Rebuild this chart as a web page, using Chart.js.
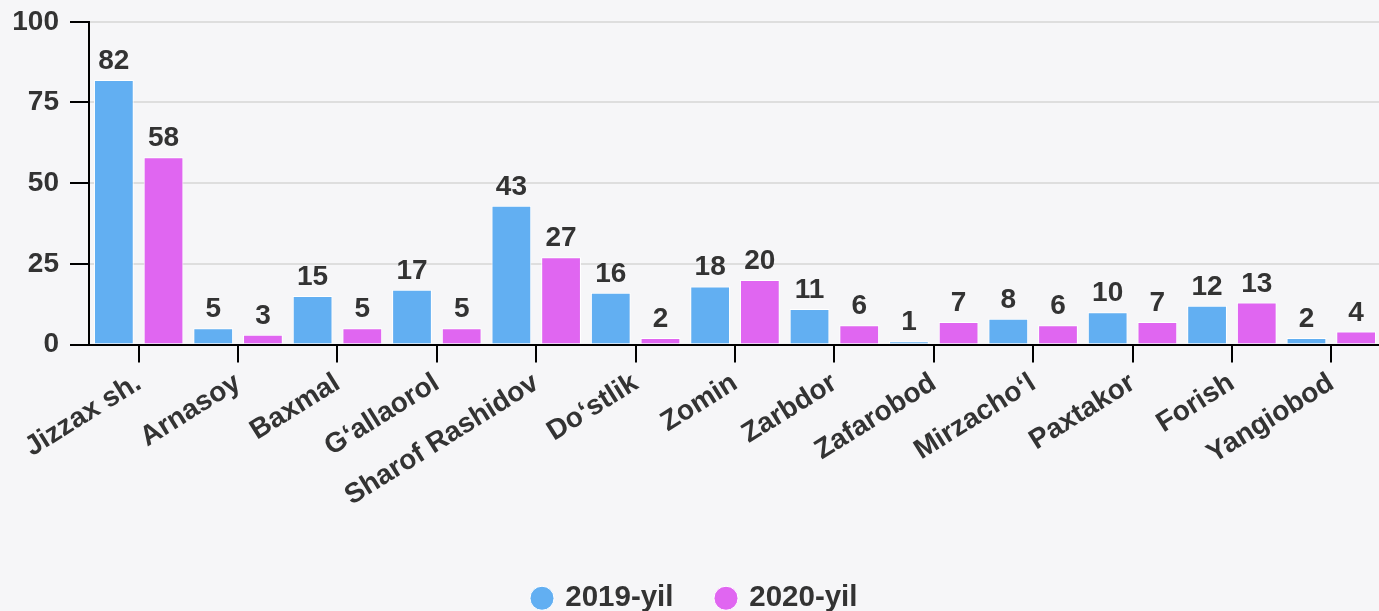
<!DOCTYPE html>
<html>
<head>
<meta charset="utf-8">
<script src="https://cdn.jsdelivr.net/npm/chart.js@4.4.0/dist/chart.umd.min.js"></script>
<style>
	html, body { margin: 0; padding: 0; overflow: hidden; background: #f6f6f8; }
	#wrap { width: 1381px; height: 629px; margin-top: -6px; position: relative; }
</style>
</head>
<body>
<div id="wrap"><canvas id="barChart"></canvas></div>
<script>
let categories = ['Jizzax sh.', 'Arnasoy', 'Baxmal', 'G‘allaorol', 'Sharof Rashidov', 'Do‘stlik', 'Zomin', 'Zarbdor', 'Zafarobod', 'Mirzacho‘l', 'Paxtakor', 'Forish', 'Yangiobod'];
let values2019 = [82, 5, 15, 17, 43, 16, 18, 11, 1, 8, 10, 12, 2];
let values2020 = [58, 3, 5, 5, 27, 2, 20, 6, 7, 6, 7, 13, 4];
let yTicks = [0, 25, 50, 75, 100];

let fontFamily = '"Liberation Sans", Arial, Helvetica, sans-serif';
let textColor = '#333333';

// value labels above bars
let valueLabels = {
	id: 'valueLabels',
	afterDatasetsDraw(chart) {
		let ctx = chart.ctx;
		ctx.save();
		ctx.font = 'bold 28px ' + fontFamily;
		ctx.fillStyle = textColor;
		ctx.textAlign = 'center';
		ctx.textBaseline = 'alphabetic';
		chart.data.datasets.forEach(function (ds, i) {
			chart.getDatasetMeta(i).data.forEach(function (bar, j) {
				ctx.fillText(String(ds.data[j]), bar.x, bar.y - 11);
			});
		});
		ctx.restore();
	}
};

new Chart('barChart', {
	type: 'bar',
	data: {
		labels: categories,
		datasets: [{
			label: '2019-yil',
			data: values2019,
			backgroundColor: '#62aff2',
			borderColor: '#ffffff',
			borderWidth: 1
		}, {
			label: '2020-yil',
			data: values2020,
			backgroundColor: '#e066f1',
			borderColor: '#ffffff',
			borderWidth: 1
		}]
	},
	options: {
		responsive: true,
		maintainAspectRatio: false,
		animation: false,
		categoryPercentage: 1.0,
		barPercentage: 0.8,
		layout: { padding: { top: 5, left: 10, right: 0, bottom: 0 } },
		plugins: {
			tooltip: { enabled: false },
			legend: {
				position: 'bottom',
				labels: {
					usePointStyle: true,
					pointStyle: 'circle',
					boxWidth: 17,
					boxHeight: 17,
					padding: 44,
					color: textColor,
					font: { family: fontFamily, size: 29.5, weight: 'bold' }
				}
			}
		},
		scales: {
			y: {
				min: 0,
				max: 100,
				afterBuildTicks: function (scale) {
					scale.ticks = yTicks.map(v => ({ value: v }));
				},
				afterFit: function (scale) { scale.width = 79; },
				border: { color: '#000000', width: 2 },
				grid: {
					color: '#dedede',
					lineWidth: 2,
					tickColor: '#000000',
					tickLength: 19
				},
				ticks: {
					padding: 11,
					color: textColor,
					font: { family: fontFamily, size: 28, weight: 'bold' }
				}
			},
			x: {
				afterFit: function (scale) { scale.height = 195; },
				border: { color: '#000000', width: 2 },
				grid: {
					offset: false,
					drawOnChartArea: false,
					tickColor: '#000000',
					tickLength: 18,
					lineWidth: 2
				},
				ticks: {
					autoSkip: false,
					minRotation: 32,
					maxRotation: 32,
					padding: 4,
					color: textColor,
					font: { family: fontFamily, size: 28, weight: 'bold' }
				}
			}
		}
	},
	plugins: [valueLabels]
});
</script>
</body>
</html>
